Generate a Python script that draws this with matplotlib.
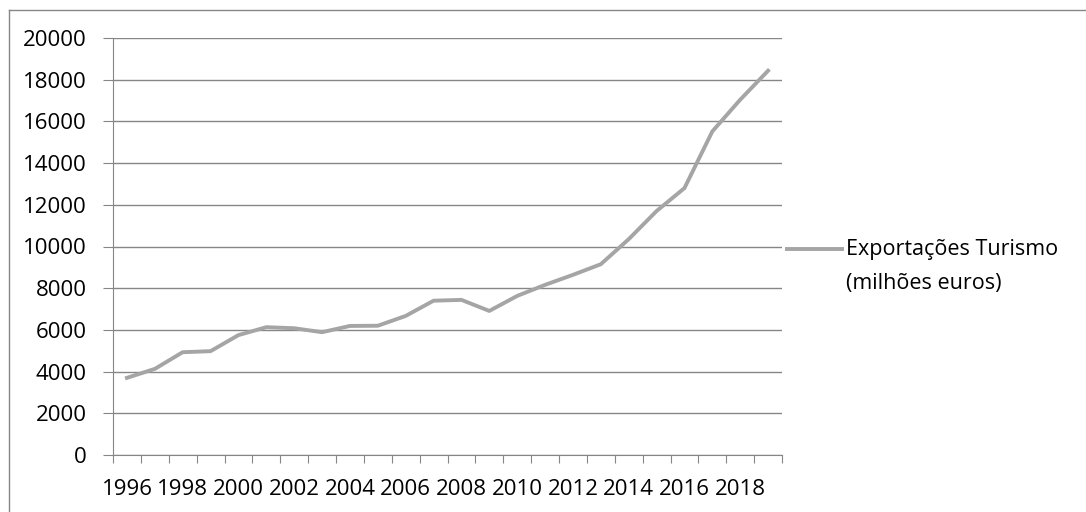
import matplotlib.pyplot as plt
from matplotlib.lines import Line2D
import numpy as np

# dados (leitura aproximada do gráfico)
anos = list(range(1996, 2020))
exportacoes = [3700, 4130, 4930, 4980, 5750, 6130, 6080, 5890, 6190, 6200,
               6670, 7400, 7440, 6910, 7630, 8160, 8640, 9150, 10350, 11700,
               12800, 15520, 17040, 18430]
serie_nome = ['Exportações Turismo', '(milhões euros)']
y_ticks = list(range(0, 20001, 2000))

plt.rcParams['font.family'] = ['Open Sans', 'DejaVu Sans']

W, H = 1086, 512
fig = plt.figure(figsize=(W / 100, H / 100), dpi=100)
ax = fig.add_axes([113 / W, 1 - 455 / H, (782 - 113) / W, (455 - 38) / H])

x = np.arange(len(anos))
ax.plot(x, exportacoes, color='#a5a5a5', linewidth=2.8, solid_joinstyle='round')

ax.set_xlim(-0.5, len(anos) - 0.5)
ax.set_ylim(0, 20000)
ax.set_yticks(y_ticks)
ax.set_yticklabels([str(v) for v in y_ticks], fontsize=16, color='#000000')
ax.yaxis.grid(True, color='#868686', linewidth=1)
ax.set_axisbelow(True)

# marcas entre categorias, rótulos de 2 em 2 anos
ax.set_xticks(np.arange(-0.5, len(anos), 1.0))
ax.set_xticklabels([])
ax.set_xticks(x[::2], minor=True)
ax.set_xticklabels([str(a) for a in anos[::2]], minor=True, fontsize=16)
ax.tick_params(axis='x', which='major', length=6, color='#868686', direction='out')
ax.tick_params(axis='x', which='minor', length=0, pad=17)
ax.tick_params(axis='y', length=7, color='#868686', pad=12)

for s in ['top', 'right']:
    ax.spines[s].set_visible(False)
ax.spines['left'].set_color('#868686')
ax.spines['bottom'].set_color('#868686')

# legenda
fig.add_artist(Line2D([787 / W, 842 / W], [1 - 249 / H, 1 - 249 / H],
                      color='#a5a5a5', linewidth=2.8))
fig.text(846 / W, 1 - 250 / H, serie_nome[0], fontsize=15.5, va='center', ha='left')
fig.text(846 / W, 1 - 283 / H, serie_nome[1], fontsize=15.5, va='center', ha='left')

# moldura do gráfico (só topo e esquerda visíveis)
fig.add_artist(Line2D([8.5 / W, 1.0], [1 - 9.5 / H, 1 - 9.5 / H], color='#868686', linewidth=1))
fig.add_artist(Line2D([8.5 / W, 8.5 / W], [0, 1 - 9.5 / H], color='#868686', linewidth=1))

fig.savefig('out.png', dpi=100)
